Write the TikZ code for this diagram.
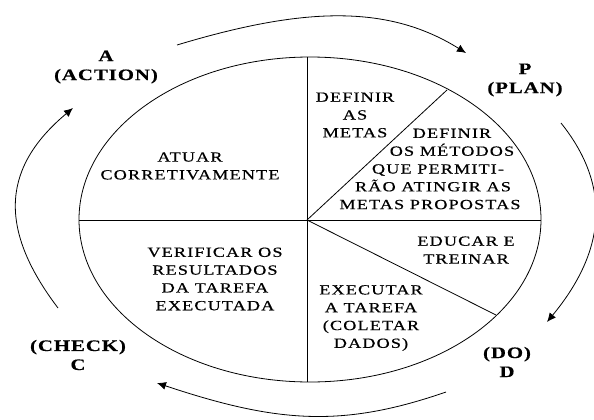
\documentclass[tikz,border=0pt]{standalone}
\usepackage{fontspec}
\setmainfont{Liberation Serif}
\newfontfamily\txtfont[FakeStretch=1.3,LetterSpace=8,FakeBold=0.5]{Liberation Serif}
\newfontfamily\lblfont[FakeStretch=1.3,LetterSpace=6,FakeBold=0.4]{Liberation Serif}
\usetikzlibrary{arrows.meta}
\tikzset{
  txt/.style={font=\txtfont\fontsize{14}{17.8}\selectfont, align=center, inner sep=0pt},
  lbl/.style={font=\lblfont\bfseries\fontsize{16}{19}\selectfont, align=center, inner sep=0pt},
  pie/.style={line width=0.8pt},
  cyc/.style={line width=0.8pt, -{Latex[length=9pt,width=8pt]}}
}
\begin{document}
\begin{tikzpicture}[x=1pt,y=-1pt]
\useasboundingbox (0,0) rectangle (594,420);
% pie
\coordinate (C) at (310,219.5);
\coordinate (O) at (307,220);
\coordinate (T) at (307,57);
\coordinate (B) at (307,382);
\coordinate (L) at (79,220);
\coordinate (R) at (541,220);
\coordinate (U) at (447,90);
\coordinate (Dn) at (496,315);
\draw[pie] (C) ellipse [x radius=231pt, y radius=162.5pt];
\draw[pie] (T) -- (B);
\draw[pie] (L) -- (R);
\draw[pie] (O) -- (U);
\draw[pie] (O) -- (Dn);
% texts
\node[txt] (atuar) at (190,166) {ATUAR\\CORRETIVAMENTE};
\node[txt] (metas) at (355,115) {DEFINIR\\AS\\METAS};
\node[txt] (metodos) at (430,169) {\hspace*{44pt}DEFINIR\\\hspace*{44pt}OS MÉTODOS\\\hspace*{16pt}QUE PERMITI-\\\hspace*{6pt}RÃO ATINGIR AS\\METAS PROPOSTAS};
\node[txt] (educar) at (466,250) {EDUCAR E\\TREINAR};
\node[txt] (executar) at (371,318) {EXECUTAR\\A TAREFA\\(COLETAR\\DADOS)};
\node[txt] (verificar) at (215,279) {VERIFICAR OS\\RESULTADOS\\DA TAREFA\\EXECUTADA};
% labels
\node[lbl] (A) at (106,67) {A\\(ACTION)};
\node[lbl] (P) at (525,80) {P\\(PLAN)};
\node[lbl] (Ck) at (78,355) {(CHECK)\\C};
\node[lbl] (D) at (507,362) {(DO)\\D};
% cycle arrows
\coordinate (a1) at (177,45);  \coordinate (a2) at (466,53);
\coordinate (b1) at (561,123); \coordinate (b2) at (547,322);
\coordinate (c1) at (446,392); \coordinate (c2) at (157,383);
\coordinate (d1) at (58,308);  \coordinate (d2) at (73,108);
\draw[cyc] (a1) .. controls (300,8) and (386,3) .. (a2);
\draw[cyc] (b1) .. controls (609,183) and (609,247) .. (b2);
\draw[cyc] (c1) .. controls (342,428) and (277,423) .. (c2);
\draw[cyc] (d1) .. controls (-5,225) and (5,165) .. (d2);
\end{tikzpicture}
\end{document}
